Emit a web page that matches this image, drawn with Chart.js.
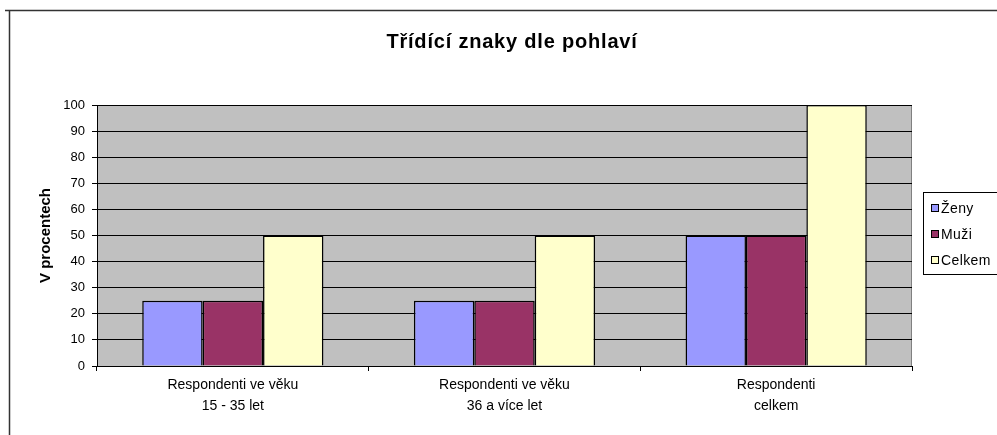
<!DOCTYPE html>
<html><head><meta charset="utf-8">
<script src="https://cdn.jsdelivr.net/npm/chart.js@4/dist/chart.umd.min.js"></script>
<style>html,body{margin:0;padding:0;background:#fff}#wrap{width:997px;height:435px;position:relative}</style>
</head><body><div id="wrap"><canvas id="c" width="997" height="435"></canvas></div>
<script>
const titleText = "Třídící znaky dle pohlaví";
const yTitle = "V procentech";
const categories = [["Respondenti ve věku","15 - 35 let"],["Respondenti ve věku","36 a více let"],["Respondenti","celkem"]];
const seriesNames = ["Ženy","Muži","Celkem"];
const zeny = [25,25,50];
const muzi = [25,25,50];
const celkem = [50,50,100];
const colors = ["#9999FF","#993366","#FFFFCC"];
const yTicks = [0,10,20,30,40,50,60,70,80,90,100];

const FONT = "Arial, 'Liberation Sans', sans-serif";

const bgPlugin = {
  id:'bg',
  beforeDraw(chart){
    const {ctx, chartArea:a} = chart;
    ctx.save();
    ctx.fillStyle='#fff';
    ctx.fillRect(0,0,chart.width,chart.height);
    ctx.fillStyle='#C0C0C0';
    ctx.fillRect(a.left,a.top,a.right-a.left,a.bottom-a.top);
    ctx.strokeStyle='#808080';ctx.lineWidth=1;
    ctx.beginPath();
    ctx.moveTo(a.left,a.top+0.5);ctx.lineTo(a.right-0.5,a.top+0.5);ctx.lineTo(a.right-0.5,a.bottom);
    ctx.stroke();
    ctx.strokeStyle='#333';ctx.lineWidth=1.5;
    ctx.beginPath();
    ctx.moveTo(5,10.5);ctx.lineTo(997,10.5);
    ctx.moveTo(9.5,10);ctx.lineTo(9.5,435);
    ctx.stroke();
    ctx.fillStyle='#000';
    ctx.font='bold 20px '+FONT;
    ctx.textAlign='center';ctx.textBaseline='middle';
    if ('letterSpacing' in ctx) ctx.letterSpacing='0.8px';
    ctx.fillText(titleText,512,42);
    ctx.restore();
  },
  afterDraw(chart){
    const ctx=chart.ctx;
    ctx.save();
    ctx.strokeStyle='#000';ctx.lineWidth=1;
    ctx.strokeRect(923.5,192.5,80,82);
    const ys=[208,234,260];
    ctx.font='14px '+FONT;ctx.textBaseline='middle';ctx.textAlign='left';
    if ('letterSpacing' in ctx) ctx.letterSpacing='0.4px';
    chart.data.datasets.forEach((ds,i)=>{
      ctx.fillStyle=ds.backgroundColor;
      ctx.fillRect(931,ys[i]-4,8,8);
      ctx.strokeStyle='#000';ctx.lineWidth=1;
      ctx.strokeRect(931.5,ys[i]-3.5,7,7);
      ctx.fillStyle='#000';
      ctx.fillText(ds.label,941,ys[i]+1);
    });
    ctx.restore();
  }
};

new Chart(document.getElementById('c'),{
  type:'bar',
  data:{
    labels:categories,
    datasets:[
      {label:seriesNames[0],data:zeny,backgroundColor:colors[0]},
      {label:seriesNames[1],data:muzi,backgroundColor:colors[1]},
      {label:seriesNames[2],data:celkem,backgroundColor:colors[2]}
    ].map(d=>Object.assign(d,{borderColor:'#000',borderWidth:1.5,categoryPercentage:0.667,barPercentage:1}))
  },
  options:{
    responsive:false,animation:false,
    layout:{padding:{left:0,right:85,top:105,bottom:0}},
    plugins:{
      legend:{display:false},
      tooltip:{enabled:false},
      title:{display:false}
    },
    scales:{
      x:{
        grid:{drawOnChartArea:false,drawTicks:true,tickLength:5,color:'#000',offset:true},
        border:{color:'#000',width:1},
        ticks:{color:'#000',font:{family:FONT,size:14,lineHeight:1.5},padding:4,maxRotation:0},
        afterFit(s){s.height=69;}
      },
      y:{
        min:0,max:100,
        afterBuildTicks(s){s.ticks=yTicks.map(v=>({value:v}));},
        grid:{color:'#000',lineWidth:1,drawTicks:true,tickLength:5},
        border:{color:'#000',width:1},
        ticks:{color:'#000',font:{family:FONT,size:13},padding:7},
        title:{display:true,text:yTitle,color:'#000',font:{family:FONT,size:15,weight:'bold'},padding:{top:37,bottom:0}},
        afterFit(s){s.width=97;}
      }
    }
  },
  plugins:[bgPlugin]
});
</script></body></html>
